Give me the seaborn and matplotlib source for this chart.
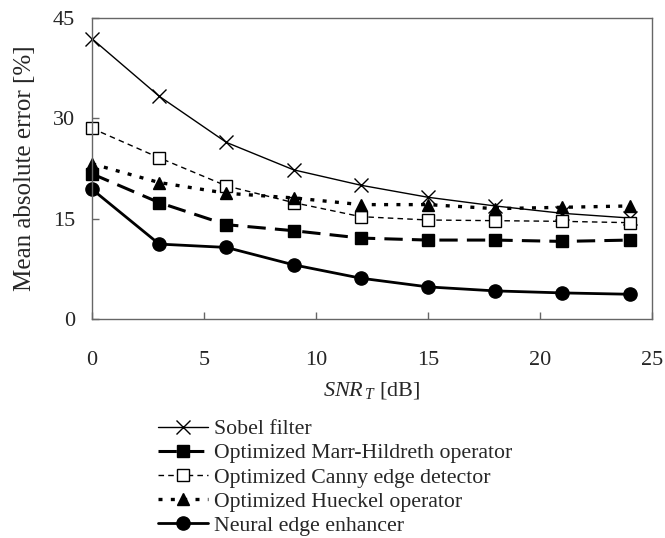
import matplotlib
matplotlib.use("Agg")
import matplotlib.pyplot as plt
import seaborn as sns
import pandas as pd

snr = [0, 3, 6, 9, 12, 15, 18, 21, 24]
sobel = [41.9, 33.3, 26.4, 22.3, 20.0, 18.2, 16.9, 15.8, 15.1]
marr = [21.7, 17.4, 14.1, 13.2, 12.1, 11.8, 11.8, 11.6, 11.8]
canny = [28.5, 24.1, 19.9, 17.4, 15.3, 14.8, 14.7, 14.6, 14.4]
hueckel = [23.2, 20.4, 18.8, 18.1, 17.1, 17.1, 16.5, 16.7, 16.9]
neural = [19.4, 11.2, 10.7, 8.1, 6.1, 4.8, 4.2, 3.9, 3.7]
labels = ["Sobel filter", "Optimized Marr-Hildreth operator",
          "Optimized Canny edge detector", "Optimized Hueckel operator",
          "Neural edge enhancer"]
xticks = [0, 5, 10, 15, 20, 25]
yticks = [0, 15, 30, 45]

sns.set_style("ticks")
plt.rcParams['font.family'] = ['Liberation Serif', 'DejaVu Serif']
plt.rcParams['mathtext.fontset'] = 'custom'
plt.rcParams['mathtext.rm'] = 'Liberation Serif'
plt.rcParams['mathtext.it'] = 'Liberation Serif:italic'

W, H = 665, 538
fig = plt.figure(figsize=(W / 100, H / 100), dpi=100)
L, R, T, B = 92, 652, 18, 319
ax = fig.add_axes([L / W, 1 - B / H, (R - L) / W, (B - T) / H])

styles = [
    dict(marker="x", linestyle="-", linewidth=1.0, markersize=10, mfc="black", mew=1.0),
    dict(marker="s", linestyle=(0, (6, 3)), linewidth=2.2, markersize=8.5, mfc="black", mew=1.0),
    dict(marker="s", linestyle=(0, (4, 3)), linewidth=1.0, markersize=8.5, mfc="white", mew=1.0),
    dict(marker="^", linestyle=(0, (1.2, 2.5)), linewidth=2.4, markersize=9, mfc="black", mew=1.0),
    dict(marker="o", linestyle="-", linewidth=2.0, markersize=9.5, mfc="black", mew=1.0),
]
series = [sobel, marr, canny, hueckel, neural]
for vals, lab, st in zip(series, labels, styles):
    df = pd.DataFrame({"x": snr, "y": vals})
    sns.lineplot(data=df, x="x", y="y", ax=ax, color="black", label=lab,
                 marker=st["marker"], linestyle=st["linestyle"], linewidth=st["linewidth"],
                 markersize=st["markersize"], markerfacecolor=st["mfc"],
                 markeredgecolor="black", markeredgewidth=st["mew"], clip_on=False)

ax.set_xlim(0, 25)
ax.set_ylim(0, 45)
ax.set_xticks(xticks)
ax.set_yticks(yticks)
ax.tick_params(direction="in", length=5, labelsize=16, color="#666666", width=1.0)
ax.tick_params(axis="x", pad=23)
ax.tick_params(axis="y", pad=12)
for s in ax.spines.values():
    s.set_visible(True)
    s.set_color("#666666")
    s.set_linewidth(1.0)
ax.set_xlabel(r"$SNR_{\,T}$ [dB]", fontsize=16, labelpad=7)
ax.set_ylabel("Mean absolute error [%]", fontsize=18, labelpad=12)

h, l = ax.get_legend_handles_labels()
ax.legend_.remove()
fig.legend(h, l, loc="upper left", bbox_to_anchor=(158 / W, 1 - 419 / H), frameon=False,
           fontsize=15.7, handlelength=2.3, handletextpad=0.25, labelspacing=0.18,
           borderaxespad=0, borderpad=0)
fig.savefig("out.png", dpi=100)
